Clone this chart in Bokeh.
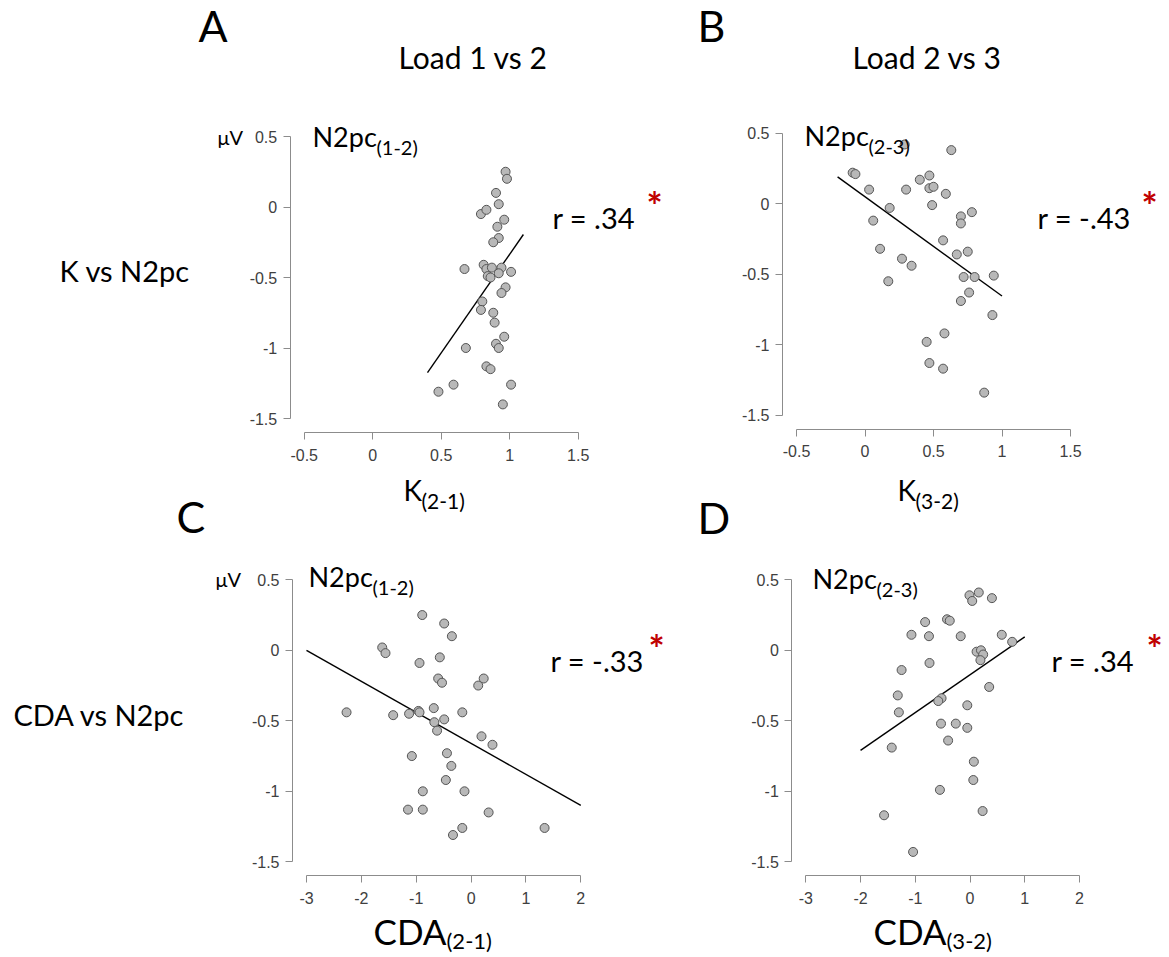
from bokeh.plotting import figure
from bokeh.models import Label, Range1d, FixedTicker, CustomJSTickFormatter
from bokeh.layouts import column, row
from bokeh.embed import file_html
from bokeh.resources import INLINE

# ---------------- data ----------------
# Panel A: K(2-1) vs N2pc(1-2)
a_k = [0.97, 0.98, 0.90, 0.92, 0.79, 0.83, 0.96, 0.91, 0.92, 0.88, 0.67, 0.81,
       0.83, 0.87, 0.84, 0.86, 0.94, 0.92, 1.01, 0.97, 0.94, 0.80, 0.79, 0.88,
       0.89, 0.96, 0.90, 0.92, 0.68, 0.83, 0.86, 0.59, 0.48, 1.01, 0.95]
a_n2pc = [0.25, 0.20, 0.10, 0.02, -0.05, -0.02, -0.09, -0.14, -0.22, -0.25, -0.44, -0.41,
          -0.44, -0.43, -0.49, -0.50, -0.43, -0.47, -0.46, -0.57, -0.61, -0.67, -0.73, -0.75,
          -0.82, -0.92, -0.97, -1.00, -1.00, -1.13, -1.15, -1.26, -1.31, -1.26, -1.40]
a_fit_x = [0.40, 1.10]
a_fit_y = [-1.175, -0.195]

# Panel B: K(3-2) vs N2pc(2-3)
b_k = [-0.09, -0.07, 0.03, 0.18, 0.06, 0.11, 0.17, 0.27, 0.34, 0.30, 0.29, 0.40,
       0.47, 0.47, 0.50, 0.49, 0.59, 0.63, 0.57, 0.67, 0.70, 0.70, 0.78, 0.75,
       0.72, 0.80, 0.94, 0.76, 0.70, 0.93, 0.58, 0.45, 0.47, 0.57, 0.87]
b_n2pc = [0.22, 0.21, 0.10, -0.03, -0.12, -0.32, -0.55, -0.39, -0.44, 0.10, 0.42, 0.17,
          0.20, 0.11, 0.12, -0.01, 0.07, 0.38, -0.26, -0.36, -0.09, -0.14, -0.06, -0.34,
          -0.52, -0.52, -0.51, -0.63, -0.69, -0.79, -0.92, -0.98, -1.13, -1.17, -1.34]
b_fit_x = [-0.20, 1.00]
b_fit_y = [0.19, -0.655]

# Panel C: CDA(2-1) vs N2pc(1-2)
c_cda = [-0.89, -0.49, -0.35, -1.62, -1.56, -0.94, -0.57, -0.60, -0.53, 0.13, 0.23, -2.27,
         -1.42, -1.13, -0.96, -0.94, -0.68, -0.67, -0.49, -0.62, -0.16, 0.19, 0.39, -1.08,
         -0.44, -0.36, -0.46, -0.88, -0.12, -1.15, -0.88, 0.32, -0.16, -0.33, 1.34]
c_n2pc = [0.25, 0.19, 0.10, 0.02, -0.02, -0.09, -0.05, -0.20, -0.23, -0.25, -0.20, -0.44,
          -0.46, -0.45, -0.43, -0.44, -0.41, -0.51, -0.49, -0.57, -0.44, -0.61, -0.67, -0.75,
          -0.73, -0.82, -0.92, -1.00, -1.00, -1.13, -1.13, -1.15, -1.26, -1.31, -1.26]
c_fit_x = [-3.0, 2.0]
c_fit_y = [0.00, -1.10]

# Panel D: CDA(3-2) vs N2pc(2-3)
d_cda = [-0.01, 0.16, 0.04, 0.40, -0.82, -0.42, -0.37, -1.07, -0.75, -0.17, 0.58, 0.77,
         0.12, 0.20, 0.24, 0.19, -0.74, -1.25, -1.32, -1.30, -0.52, -0.58, -0.05, 0.35,
         -0.53, -0.26, -0.05, -0.40, -1.43, 0.07, 0.06, -0.55, 0.23, -1.57, -1.04]
d_n2pc = [0.39, 0.41, 0.35, 0.37, 0.20, 0.22, 0.21, 0.11, 0.10, 0.10, 0.11, 0.06,
          -0.01, 0.00, -0.03, -0.07, -0.09, -0.14, -0.32, -0.44, -0.34, -0.36, -0.39, -0.26,
          -0.52, -0.52, -0.55, -0.64, -0.69, -0.79, -0.92, -0.99, -1.14, -1.17, -1.43]
d_fit_x = [-2.0, 1.0]
d_fit_y = [-0.71, 0.095]

k_ticks = [-0.5, 0, 0.5, 1, 1.5]
cda_ticks = [-3, -2, -1, 0, 1, 2]
n2pc_ticks = [-1.5, -1, -0.5, 0, 0.5]

# ---------------- styling ----------------
AX = "#8c8c8c"
TL = "#404040"
FONT = "Lato"
GAP = 14          # R-style offset of the axes from the data region (px)
BASE_FIX = 0.44   # alphabetic-baseline correction of the svg text (in em)
TOP_H = 550
BOT_H = 406


def panel(width, height, origin, xticks, x0_page, sx, yticks, ytop_page, sy):
    ox, oy = origin
    x0 = xticks[0]
    yt = yticks[-1]
    xr = (x0 - (x0_page - ox) / sx, x0 + (ox + width - x0_page) / sx)
    yr = (yt - (oy + height - ytop_page) / sy, yt + (ytop_page - oy) / sy)
    p = figure(width=width, height=height, x_range=Range1d(*xr), y_range=Range1d(*yr),
               toolbar_location=None, output_backend="svg",
               min_border_left=0, min_border_right=0, min_border_top=0, min_border_bottom=0)
    p.outline_line_color = None
    p.background_fill_color = "white"
    p.border_fill_color = "white"
    p.xgrid.grid_line_color = None
    p.ygrid.grid_line_color = None
    fmt = CustomJSTickFormatter(code="return tick.toString()")
    for ax, ticks, standoff in ((p.xaxis, xticks, 9), (p.yaxis, yticks, 6)):
        ax.ticker = FixedTicker(ticks=ticks)
        ax.bounds = (ticks[0], ticks[-1])
        ax.formatter = fmt
        ax.axis_line_color = AX
        ax.major_tick_line_color = AX
        ax.minor_tick_line_color = None
        ax.major_tick_out = 7
        ax.major_tick_in = 0
        ax.major_label_text_font = "Liberation Sans"
        ax.major_label_text_font_size = "16px"
        ax.major_label_text_color = TL
        ax.major_label_standoff = standoff
    p.yaxis.fixed_location = x0 - GAP / sx
    p.xaxis.fixed_location = yticks[0] - GAP / sy
    geom = dict(x0=x0, x0p=x0_page, sx=sx, yt=yt, ytp=ytop_page, sy=sy)
    return p, geom


def txt(p, g, px, py, text, size, color="black", bold=False):
    py = py - BASE_FIX * size
    x = g["x0"] + (px - g["x0p"]) / g["sx"]
    y = g["yt"] - (py - g["ytp"]) / g["sy"]
    p.add_layout(Label(x=x, y=y, text=text, text_font=FONT, text_font_size=f"{size}px",
                       text_color=color, text_font_style="bold" if bold else "normal",
                       text_baseline="alphabetic", text_align="left"))


def draw(p, xs, ys, fx, fy):
    p.line(fx, fy, line_color="black", line_width=1.4)
    p.scatter(xs, ys, size=9, fill_color="#b8b8b8", line_color="#555555", line_width=1)


pA, gA = panel(680, TOP_H, (0, 0), k_ticks, 303.7, 137.0, n2pc_ticks, 136.0, 141.0)
pB, gB = panel(488, TOP_H, (680, 0), k_ticks, 796.0, 137.0, n2pc_ticks, 132.7, 141.0)
pC, gC = panel(680, BOT_H, (0, TOP_H), cda_ticks, 306.0, 54.86, n2pc_ticks, 579.3, 141.0)
pD, gD = panel(488, BOT_H, (680, TOP_H), cda_ticks, 805.3, 54.74, n2pc_ticks, 579.3, 141.0)

draw(pA, a_k, a_n2pc, a_fit_x, a_fit_y)
draw(pB, b_k, b_n2pc, b_fit_x, b_fit_y)
draw(pC, c_cda, c_n2pc, c_fit_x, c_fit_y)
draw(pD, d_cda, d_n2pc, d_fit_x, d_fit_y)

RED = "#c00000"
# panel A and surrounding texts
txt(pA, gA, 198, 44, "A", 43)
txt(pA, gA, 398, 70, "Load 1 vs 2", 30)
txt(pA, gA, 59, 283, "K vs N2pc", 29)
txt(pA, gA, 217, 145, "μV", 20)
txt(pA, gA, 312, 148, "N2pc", 27)
txt(pA, gA, 376, 155, "(1-2)", 20)
txt(pA, gA, 552, 230, "r = .34", 29)
txt(pA, gA, 646, 221, "*", 38, RED, True)
txt(pA, gA, 403, 502, "K", 28)
txt(pA, gA, 421, 509, "(2-1)", 21)
txt(pA, gA, 176, 535, "C", 43)

# panel B
txt(pB, gB, 697, 44, "B", 43)
txt(pB, gB, 852, 70, "Load 2 vs 3", 30)
txt(pB, gB, 804, 147, "N2pc", 27)
txt(pB, gB, 868, 154, "(2-3)", 20)
txt(pB, gB, 1037, 230, "r = -.43", 29)
txt(pB, gB, 1141, 221, "*", 38, RED, True)
txt(pB, gB, 897, 502, "K", 28)
txt(pB, gB, 915, 509, "(3-2)", 21)
txt(pB, gB, 697, 536, "D", 43)

# panel C
txt(pC, gC, 13, 727, "CDA vs N2pc", 29)
txt(pC, gC, 215, 587, "μV", 20)
txt(pC, gC, 308, 588, "N2pc", 27)
txt(pC, gC, 372, 595, "(1-2)", 20)
txt(pC, gC, 550, 673, "r = -.33", 29)
txt(pC, gC, 648, 664, "*", 38, RED, True)
txt(pC, gC, 373, 946, "CDA", 35)
txt(pC, gC, 446, 950, "(2-1)", 22)

# panel D
txt(pD, gD, 812, 590, "N2pc", 27)
txt(pD, gD, 876, 597, "(2-3)", 20)
txt(pD, gD, 1051, 673, "r = .34", 29)
txt(pD, gD, 1146, 664, "*", 38, RED, True)
txt(pD, gD, 873, 946, "CDA", 35)
txt(pD, gD, 946, 950, "(3-2)", 22)

layout = column(row(pA, pB, spacing=0), row(pC, pD, spacing=0), spacing=0)
open("out.html", "w").write(file_html(layout, INLINE))
